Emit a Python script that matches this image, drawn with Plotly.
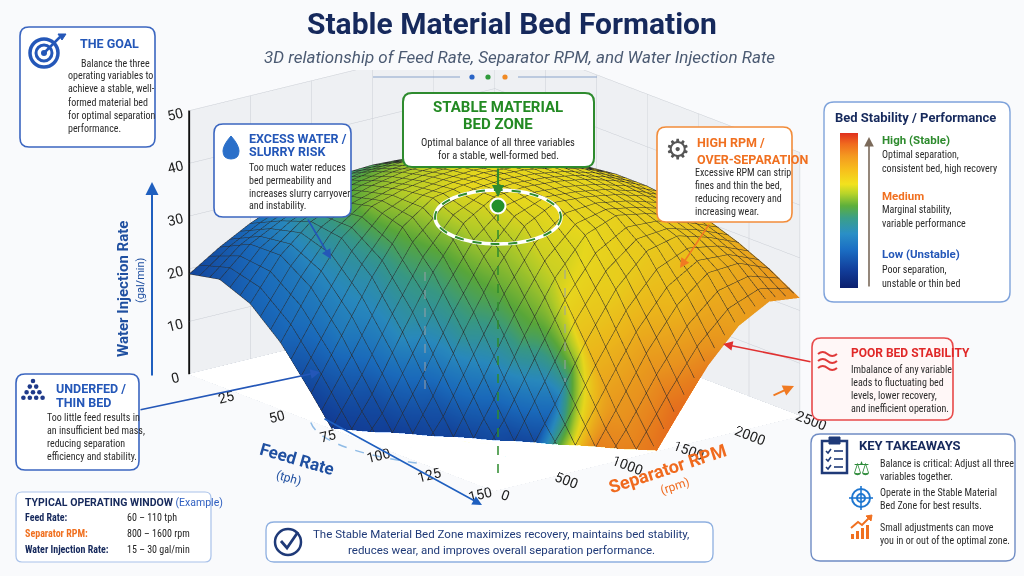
import plotly.graph_objects as go

# ---------------- data ----------------
feed_rate = [0, 15, 30, 45, 60, 75, 90, 105, 120, 135, 150]            # tph
separator_rpm = [0, 250, 500, 750, 1000, 1250, 1500, 1750, 2000, 2250, 2500]
# water injection surface height, rows = separator_rpm, cols = feed_rate
water_injection = [
    [19.0, 20.2, 17.8, 12.6, 5.2, -2.6, -7.5, -7.1, -6.5, -5.7, -4.1],
    [22.7, 25.5, 25.6, 21.7, 14.8, 5.9, -2.9, -8.3, -7.7, -6.8, -5.8],
    [25.8, 28.5, 30.6, 29.7, 24.5, 16.3, 6.4, -3.1, -8.6, -7.7, -6.7],
    [28.2, 30.9, 32.9, 34.3, 32.6, 26.3, 17.2, 6.6, -3.1, -8.5, -7.4],
    [29.9, 32.6, 34.6, 36.0, 36.7, 34.1, 27.0, 17.3, 6.5, -3.0, -8.0],
    [30.9, 33.6, 35.7, 37.0, 37.7, 37.7, 34.4, 26.8, 16.8, 6.2, -2.8],
    [31.2, 34.0, 36.0, 37.4, 38.1, 38.1, 37.4, 33.5, 25.5, 15.6, 5.6],
    [30.9, 33.6, 35.7, 37.0, 37.7, 37.7, 37.0, 35.7, 31.2, 23.2, 13.8],
    [29.9, 32.6, 34.6, 36.0, 36.7, 36.7, 36.0, 34.6, 32.6, 27.8, 19.9],
    [28.2, 30.9, 32.9, 34.3, 35.0, 35.0, 34.3, 32.9, 30.9, 28.2, 23.1],
    [25.8, 28.5, 30.6, 31.9, 32.6, 32.6, 31.9, 30.6, 28.5, 25.8, 22.4],
]
# bed stability / performance colour value (0 = low, 1 = high)
bed_stability = [
    [.15, .19, .23, .23, .14, .10, .10, .10, .10, .10, .10],
    [.19, .25, .29, .31, .30, .18, .10, .10, .10, .10, .10],
    [.25, .34, .42, .43, .39, .37, .21, .10, .10, .10, .90],
    [.34, .44, .51, .57, .55, .48, .43, .25, .10, .90, .90],
    [.41, .50, .57, .62, .64, .62, .56, .50, .28, .90, .90],
    [.46, .54, .61, .64, .67, .67, .65, .64, .74, .84, .90],
    [.49, .58, .64, .66, .68, .68, .68, .67, .70, .82, .92],
    [.51, .58, .63, .66, .67, .68, .68, .69, .71, .76, .88],
    [.53, .59, .63, .66, .67, .67, .69, .70, .72, .77, .82],
    [.54, .59, .63, .66, .67, .69, .70, .72, .75, .79, .84],
    [.56, .61, .65, .67, .70, .71, .73, .75, .79, .83, .86],
]
feed_ticks = [0, 25, 50, 75, 100, 125, 150]
rpm_ticks = [0, 500, 1000, 1500, 2000, 2500]
water_ticks = [0, 10, 20, 30, 40, 50]

window_labels = ["Feed Rate:", "Separator RPM:", "Water Injection Rate:"]
window_values = ["60 – 110 tph", "800 – 1600 rpm", "15 – 30 gal/min"]

# ---------------- helpers ----------------
W, H = 1024, 576
BODY = "Liberation Sans Narrow, Roboto Condensed, Roboto, sans-serif"
HEAD = "Roboto, Liberation Sans, sans-serif"
NAVY = "#16295c"
BLUE = "#2457b8"


def X(px):
    return px / W


def Y(py):
    return 1 - py / H


shapes = []
annots = []


def rrect(x0, y0, x1, y1, r=8, line=BLUE, fill="white", width=1.5):
    def p(x, y):
        return f"{X(x):.5f},{Y(y):.5f}"
    path = (f"M {p(x0 + r, y0)} L {p(x1 - r, y0)} Q {p(x1, y0)} {p(x1, y0 + r)} "
            f"L {p(x1, y1 - r)} Q {p(x1, y1)} {p(x1 - r, y1)} L {p(x0 + r, y1)} "
            f"Q {p(x0, y1)} {p(x0, y1 - r)} L {p(x0, y0 + r)} Q {p(x0, y0)} {p(x0 + r, y0)} Z")
    shapes.append(dict(type="path", xref="paper", yref="paper", path=path, fillcolor=fill,
                       line=dict(color=line, width=width), layer="above"))


def circ(cx, cy, r, line=None, fill=None, width=2, layer="above", dash="solid"):
    shapes.append(dict(type="circle", xref="paper", yref="paper",
                       x0=X(cx - r), x1=X(cx + r), y0=Y(cy + r), y1=Y(cy - r),
                       line=dict(color=line or "rgba(0,0,0,0)", width=width if line else 0, dash=dash),
                       fillcolor=fill or "rgba(0,0,0,0)", layer=layer))


def ellipse(cx, cy, rx, ry, color, width=1.5, dash="dash", layer="below"):
    shapes.append(dict(type="circle", xref="paper", yref="paper",
                       x0=X(cx - rx), x1=X(cx + rx), y0=Y(cy + ry), y1=Y(cy - ry),
                       line=dict(color=color, width=width, dash=dash), layer=layer))


def seg(x0, y0, x1, y1, color, width=2, dash="solid", layer="above"):
    shapes.append(dict(type="line", xref="paper", yref="paper", x0=X(x0), y0=Y(y0), x1=X(x1), y1=Y(y1),
                       line=dict(color=color, width=width, dash=dash), layer=layer))


def pathp(points, color, width=2, fill=None, closed=False):
    d = "M " + " L ".join(f"{X(a):.5f},{Y(b):.5f}" for a, b in points)
    if closed:
        d += " Z"
    shapes.append(dict(type="path", xref="paper", yref="paper", path=d,
                       line=dict(color=color, width=width),
                       fillcolor=fill or "rgba(0,0,0,0)", layer="above"))


def rawpath(d, color, width=2, fill=None):
    shapes.append(dict(type="path", xref="paper", yref="paper", path=d,
                       line=dict(color=color, width=width),
                       fillcolor=fill or "rgba(0,0,0,0)", layer="above"))


def txt(x, y, s, size=10, color="#2b2b2b", bold=False, anchor="left", family=BODY,
        italic=False, angle=0):
    annots.append(dict(xref="paper", yref="paper", x=X(x), y=Y(y), text=s, showarrow=False,
                       xanchor=anchor, yanchor="middle", align="left" if anchor == "left" else anchor,
                       textangle=angle,
                       font=dict(size=size, color=color, family=family,
                                 weight="bold" if bold else "normal",
                                 style="italic" if italic else "normal")))


def lines(x, y0, dy, rows, **kw):
    for k, s in enumerate(rows):
        txt(x, y0 + k * dy, s, **kw)


def arrow(x0, y0, x1, y1, color, width=1.5, head=2, size=1.2):
    annots.append(dict(xref="paper", yref="paper", axref="pixel", ayref="pixel",
                       x=X(x1), y=Y(y1), ax=x0 - x1, ay=y0 - y1, text="", showarrow=True,
                       arrowhead=head, arrowsize=size, arrowwidth=width, arrowcolor=color,
                       standoff=0, startstandoff=0))


# ---------------- surface ----------------
colorscale = [
    [0.0, "#0b1f6e"], [0.12, "#123f9c"], [0.25, "#1b6fc4"], [0.35, "#2a8fc6"],
    [0.45, "#3a9f8a"], [0.53, "#5daf3c"], [0.61, "#b8d42a"], [0.67, "#f2e21e"],
    [0.76, "#f7c01c"], [0.85, "#f49a20"], [0.93, "#f06a1e"], [1.0, "#e0301e"],
]

surf = go.Surface(
    x=feed_rate, y=separator_rpm, z=water_injection, surfacecolor=bed_stability,
    colorscale=colorscale, cmin=0, cmax=1, showscale=True,
    colorbar=dict(x=X(840), xanchor="left", y=Y(133), yanchor="top", len=155 / H,
                  lenmode="fraction", thickness=18, thicknessmode="pixels",
                  showticklabels=False, ticks="", outlinewidth=0, xpad=0, ypad=0),
    lighting=dict(ambient=0.95, diffuse=0.35, specular=0.05, roughness=0.7, fresnel=0.05),
    lightposition=dict(x=-1000, y=-2000, z=5000),
    contours=dict(
        x=dict(show=True, start=0, end=150, size=5, color="#2a2a2a", width=1, highlight=False),
        y=dict(show=True, start=0, end=2500, size=83, color="#2a2a2a", width=1, highlight=False),
        z=dict(highlight=False),
    ),
    hoverinfo="skip",
)

fig = go.Figure(surf)

axis_common = dict(title=dict(text=""), showgrid=True, gridcolor="#c9cdd4", gridwidth=1, zeroline=False,
                   showspikes=False, tickfont=dict(size=13, color="#222", family=HEAD),
                   showbackground=True, backgroundcolor="#eef0f3")

fig.update_layout(
    width=W, height=H, margin=dict(l=0, r=0, t=0, b=0),
    paper_bgcolor="#f9fafc", showlegend=False,
    scene=dict(
        domain=dict(x=[0.133, 0.833], y=[0.0972, 0.8785]),
        xaxis=dict(range=[0, 150], tickvals=feed_ticks, **axis_common),
        yaxis=dict(range=[0, 2500], tickvals=rpm_ticks, **axis_common),
        zaxis=dict(range=[0, 50], tickvals=water_ticks,
                   **{**axis_common, "backgroundcolor": "rgba(226,229,234,0.45)"},
                   showline=True, linecolor="#111", linewidth=4),
        aspectmode="manual", aspectratio=dict(x=2.17, y=1.74, z=1.23),
        camera=dict(eye=dict(x=2.5, y=-2.0, z=0.88), center=dict(x=0, y=0, z=-0.148),
                    projection=dict(type="orthographic")),
        bgcolor="rgba(0,0,0,0)",
    ),
)

# ---------------- floor rings (under the scene) ----------------
ellipse(500, 418, 190, 50, "#8fbbe6")
ellipse(500, 418, 140, 38, "#52b0a8")
ellipse(500, 418, 88, 26, "#e2c21f")
ellipse(500, 418, 36, 11, "#3aa64f")

# ---------------- title ----------------
txt(512, 23, "Stable Material Bed Formation", size=30, color=NAVY, bold=True, anchor="center", family=HEAD)
txt(519, 57, "3D relationship of Feed Rate, Separator RPM, and Water Injection Rate", size=17,
    color="#4b5a72", anchor="center", family=HEAD, italic=True)
seg(373, 77, 460, 77, "#8aa3cc", width=1.2)
seg(518, 77, 597, 77, "#8aa3cc", width=1.2)
circ(472, 77, 2.6, fill="#2a64c6")
circ(488, 77, 2.6, fill="#2f9a3c")
circ(505, 77, 2.6, fill="#f08a24")

# ---------------- decorations on the chart ----------------
seg(425, 272, 425, 390, "#9aa0a8", width=1, dash="dash")
seg(565, 270, 565, 382, "#9aa0a8", width=1, dash="dash")
seg(498, 212, 498, 480, "#2e8b2e", width=1.5, dash="dash")
ellipse(498, 217, 63, 27, "white", width=3.5, dash="solid", layer="above")
ellipse(498, 217, 63, 27, "#2e8b2e", width=2, dash="dash", layer="above")
circ(498, 206, 7.5, line="white", fill="#23902a", width=2)

# axis titles
txt(123, 289, "Water Injection Rate", size=15, color="#1f4fa0", bold=True, anchor="center", family=HEAD, angle=-90)
txt(140, 280, "(gal/min)", size=11, color="#1f4fa0", anchor="center", family=HEAD, angle=-90)
arrow(152, 377, 152, 182, "#1f5fbf", width=2, head=2, size=1.3)
txt(297, 459, "Feed Rate", size=17, color="#1f4fa0", bold=True, anchor="center", family=HEAD, angle=16)
txt(289, 478, "(tph)", size=12, color="#1f4fa0", anchor="center", family=HEAD, angle=16)
arrow(323, 418, 482, 505, "#1f5fbf", width=1.6, head=2, size=1.2)
txt(667, 468, "Separator RPM", size=18, color="#f06a1e", bold=True, anchor="center", family=HEAD, angle=-18)
txt(675, 486, "(rpm)", size=12, color="#f06a1e", anchor="center", family=HEAD, angle=-18)
arrow(772, 396, 794, 386, "#f07a22", width=2, head=2, size=1.1)

# ---------------- THE GOAL ----------------
rrect(20, 27, 155, 147, r=9, line="#3b66c0", fill="white", width=1.6)
circ(44, 53, 14, line="#2457b8", width=3.5)
circ(44, 53, 8, line="#2457b8", width=3)
circ(44, 53, 3, fill="#2457b8")
seg(45, 52, 60, 37, "#2457b8", width=2.5)
pathp([(58, 34), (66, 34), (62, 40)], "#2457b8", width=1, fill="#2457b8", closed=True)
txt(78, 44, "THE GOAL", size=12.5, color=BLUE, bold=True, family=HEAD)
lines(79, 63, 13, ["Balance the three"], size=10)
lines(66, 76, 13, ["operating variables to", "achieve a stable, well-", "formed material bed",
                   "for optimal separation", "performance."], size=10)

# ---------------- EXCESS WATER ----------------
rrect(214, 124, 351, 217, r=9, line="#3b66c0", fill="white", width=1.6)
rawpath(f"M {X(231):.5f},{Y(136):.5f} Q {X(239):.5f},{Y(145):.5f} {X(239):.5f},{Y(151):.5f} "
        f"Q {X(239):.5f},{Y(159):.5f} {X(231):.5f},{Y(159):.5f} Q {X(223):.5f},{Y(159):.5f} "
        f"{X(223):.5f},{Y(151):.5f} Q {X(223):.5f},{Y(145):.5f} {X(231):.5f},{Y(136):.5f} Z",
        "#2a6fc9", width=1, fill="#2a6fc9")
txt(247, 138, "EXCESS WATER /", size=12.5, color=BLUE, bold=True, family=HEAD)
txt(247, 152, "SLURRY RISK", size=12.5, color=BLUE, bold=True, family=HEAD)
lines(247, 167, 13, ["Too much water reduces", "bed permeability and",
                     "increases slurry carryover", "and instability."], size=10)
arrow(307, 218, 331, 259, "#2457b8", width=1.6)

# ---------------- STABLE ZONE ----------------
rrect(403, 93, 594, 167, r=9, line="#2e8b2e", fill="white", width=2)
txt(498, 107, "STABLE MATERIAL", size=15, color="#238a23", bold=True, anchor="center", family=HEAD)
txt(498, 124, "BED ZONE", size=15, color="#238a23", bold=True, anchor="center", family=HEAD)
txt(498, 142, "Optimal balance of all three variables", size=10.5, anchor="center")
txt(498, 155, "for a stable, well-formed bed.", size=10.5, anchor="center")
arrow(498, 167, 498, 197, "#2e8b2e", width=2.2, head=2, size=1.1)

# ---------------- HIGH RPM ----------------
rrect(657, 127, 792, 222, r=9, line="#f28c3a", fill="white", width=1.6)
txt(677, 149, "⚙", size=28, color="#555", anchor="center", family="DejaVu Sans")
txt(695, 142, "HIGH RPM /", size=12.5, color="#f07020", bold=True, family=HEAD)
txt(695, 159, "OVER-SEPARATION", size=12.5, color="#f07020", bold=True, family=HEAD)
lines(693, 172, 13, ["Excessive RPM can strip", "fines and thin the bed,",
                     "reducing recovery and", "increasing wear."], size=10)
arrow(710, 223, 680, 268, "#f07a22", width=1.6)

# ---------------- BED STABILITY PANEL ----------------
rrect(824, 102, 1010, 302, r=10, line="#7fa3db", fill="white", width=1.4)
txt(915, 117, "Bed Stability / Performance", size=13, color=NAVY, bold=True, anchor="center", family=HEAD)
arrow(869, 288, 869, 137, "#7b6a5a", width=1.6, head=2, size=1.2)
txt(880, 140, "High (Stable)", size=11.5, color="#2e8b2e", bold=True, family=HEAD)
lines(880, 154, 14, ["Optimal separation,", "consistent bed, high recovery"], size=10)
txt(880, 196, "Medium", size=11.5, color="#f07020", bold=True, family=HEAD)
lines(880, 210, 14, ["Marginal stability,", "variable performance"], size=10)
txt(880, 254, "Low (Unstable)", size=11.5, color="#2457b8", bold=True, family=HEAD)
lines(880, 269, 14, ["Poor separation,", "unstable or thin bed"], size=10)

# ---------------- POOR BED STABILITY ----------------
rrect(812, 338, 953, 420, r=9, line="#e84a4a", fill="#fff7f7", width=1.6)
for wy in (354, 361, 368):
    rawpath(f"M {X(818):.5f},{Y(wy):.5f} Q {X(822.7):.5f},{Y(wy - 4):.5f} {X(827.5):.5f},{Y(wy):.5f} "
            f"Q {X(832.2):.5f},{Y(wy + 4):.5f} {X(837):.5f},{Y(wy):.5f}", "#e03a3a", width=2)
txt(849, 353, "POOR BED STABILITY", size=12, color="#e02828", bold=True, family=HEAD)
lines(849, 369, 13, ["Imbalance of any variable", "leads to fluctuating bed",
                     "levels, lower recovery,", "and inefficient operation."], size=10)
arrow(812, 362, 723, 344, "#e03030", width=1.6)

# ---------------- UNDERFED ----------------
rrect(16, 374, 139, 470, r=9, line="#3b66c0", fill="white", width=1.6)
for row in range(4):
    for k in range(row + 1):
        circ(33 - row * 3.2 + k * 6.4, 381 + row * 5.6, 2.3, fill="#1f3a8a")
txt(54, 388, "UNDERFED /", size=12.5, color=BLUE, bold=True, family=HEAD)
txt(54, 402, "THIN BED", size=12.5, color=BLUE, bold=True, family=HEAD)
lines(45, 417, 13, ["Too little feed results in", "an insufficient bed mass,",
                    "reducing separation", "efficiency and stability."], size=10)
arrow(139, 410, 320, 372, "#2457b8", width=1.6)

# ---------------- TYPICAL OPERATING WINDOW ----------------
rrect(16, 492, 211, 562, r=6, line="#a9c2ea", fill="white", width=1.2)
txt(23, 502, "TYPICAL OPERATING WINDOW <span style='font-weight:normal;color:#2f5fc0'>(Example)</span>",
    size=10.5, color=NAVY, bold=True, family=HEAD)
label_colors = [NAVY, "#f07020", NAVY]
for k in range(3):
    txt(23, 517 + k * 16, window_labels[k], size=10, color=label_colors[k], bold=True, family=BODY)
    txt(125, 517 + k * 16, window_values[k], size=10, color="#222", family=BODY)

# ---------------- BOTTOM NOTE ----------------
rrect(266, 522, 713, 562, r=8, line="#8fb0e0", fill="white", width=1.3)
circ(288, 542, 13, line="#1f3a78", width=2.5)
pathp([(281, 541), (287, 548), (298, 532)], "#1f3a78", width=2.8)
txt(501, 534, "The Stable Material Bed Zone maximizes recovery, maintains bed stability,",
    size=11.5, color="#1f3a78", anchor="center", family=HEAD)
txt(501, 550, "reduces wear, and improves overall separation performance.",
    size=11.5, color="#1f3a78", anchor="center", family=HEAD)

# ---------------- KEY TAKEAWAYS ----------------
rrect(811, 434, 1015, 561, r=9, line="#6f8cc4", fill="white", width=1.4)
shapes.append(dict(type="rect", xref="paper", yref="paper", x0=X(822), x1=X(847), y0=Y(473), y1=Y(441),
                   line=dict(color="#1f3a78", width=2.5), fillcolor="white", layer="above"))
shapes.append(dict(type="rect", xref="paper", yref="paper", x0=X(829), x1=X(840), y0=Y(444), y1=Y(437),
                   line=dict(color="#1f3a78", width=1), fillcolor="#1f3a78", layer="above"))
for cy in (451, 459, 467):
    pathp([(826, cy), (828, cy + 2), (831, cy - 2)], "#1f3a78", width=1.6)
    seg(834, cy, 843, cy, "#1f3a78", width=1.6)
txt(857, 445, "KEY TAKEAWAYS", size=13, color=NAVY, bold=True, family=HEAD)
txt(861, 468, "⚖", size=19, color="#2e8b3a", anchor="center", family="DejaVu Sans")
lines(878, 463, 13.5, ["Balance is critical: Adjust all three", "variables together."], size=10)
circ(861, 498, 9, line="#1f77d0", width=2)
circ(861, 498, 4, line="#1f77d0", width=2)
seg(849, 498, 873, 498, "#1f77d0", width=1.6)
seg(861, 486, 861, 510, "#1f77d0", width=1.6)
lines(878, 492, 13.5, ["Operate in the Stable Material", "Bed Zone for best results."], size=10)
for k, hgt in enumerate((5, 8, 11, 14)):
    shapes.append(dict(type="rect", xref="paper", yref="paper", x0=X(851 + k * 5), x1=X(854 + k * 5),
                       y0=Y(539), y1=Y(539 - hgt), line=dict(width=0), fillcolor="#f07020", layer="above"))
pathp([(851, 528), (858, 522), (862, 525), (870, 517)], "#f07020", width=2)
pathp([(866, 516), (872, 515), (871, 521)], "#f07020", width=1, fill="#f07020", closed=True)
lines(878, 527, 13.5, ["Small adjustments can move", "you in or out of the optimal zone."], size=10)

fig.update_layout(shapes=shapes, annotations=annots)
fig.write_html("out.html", config={"displayModeBar": False},
               post_script="document.body.style.margin='0px';document.body.style.overflow='hidden';")
